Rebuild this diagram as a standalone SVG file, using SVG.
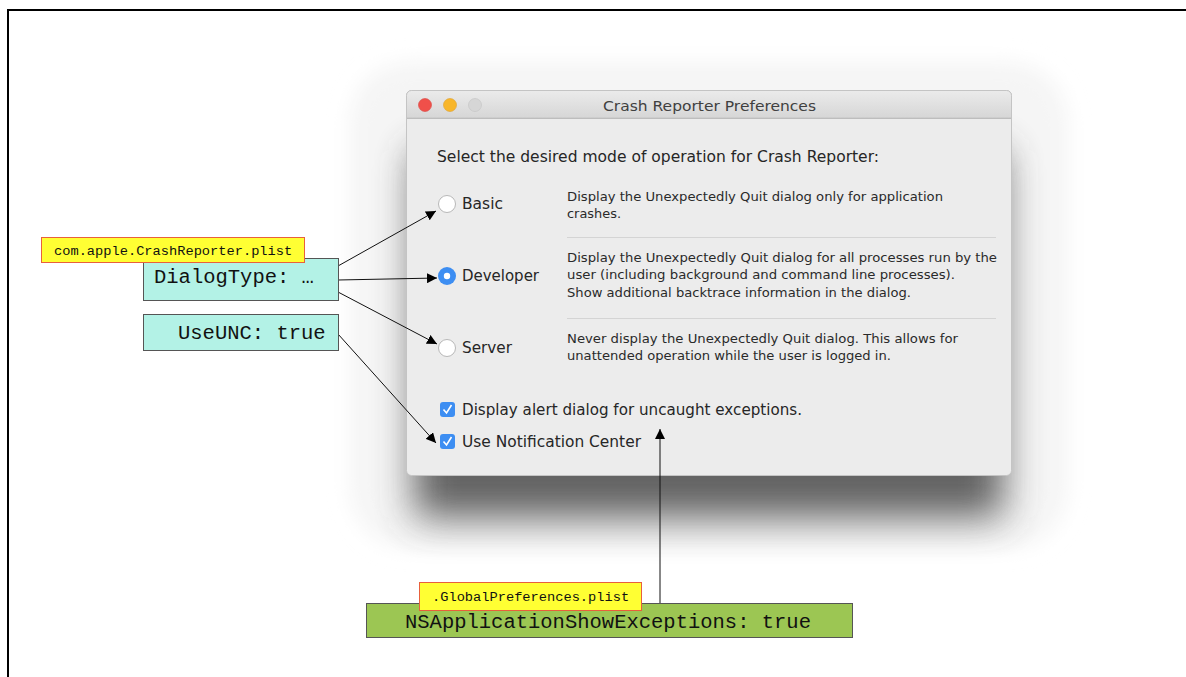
<svg xmlns="http://www.w3.org/2000/svg" width="1186" height="677" viewBox="0 0 1186 677">
  <style>
    .ui { font-family: "DejaVu Sans", "Liberation Sans", sans-serif; fill: #262626; }
    .title { font-size: 14.5px; fill: #404040; }
    .head { font-size: 15px; }
    .opt { font-size: 15px; }
    .desc { font-size: 13px; fill: #2a2a2a; }
    .mono { font-family: "Liberation Mono", "DejaVu Sans Mono", monospace; fill: #111; }
    .key { font-size: 20.5px; }
    .file { font-size: 13.7px; }
    .conn { stroke: #111; stroke-width: 1; fill: none; marker-end: url(#arrow); }
    .sep { stroke: #d4d4d4; stroke-width: 1; }
  </style>
  <defs>
    <marker id="arrow" viewBox="0 0 10 10" refX="10" refY="5" markerWidth="10" markerHeight="10" markerUnits="userSpaceOnUse" orient="auto">
      <path d="M0,0 L10,5 L0,10 z" fill="#000"/>
    </marker>
    <filter id="halo" x="-20%" y="-20%" width="140%" height="140%">
      <feGaussianBlur stdDeviation="10"/>
    </filter>
    <filter id="drop" x="-30%" y="-30%" width="160%" height="180%">
      <feGaussianBlur stdDeviation="19"/>
    </filter>
    <linearGradient id="titlebar" x1="0" y1="0" x2="0" y2="1">
      <stop offset="0" stop-color="#ebebeb"/>
      <stop offset="1" stop-color="#d6d6d6"/>
    </linearGradient>
  </defs>

  <!-- page frame -->
  <g id="frame">
    <line x1="7" y1="10" x2="1186" y2="10" stroke="#000" stroke-width="2"/>
    <line x1="8" y1="9" x2="8" y2="677" stroke="#000" stroke-width="2"/>
  </g>

  <!-- preferences window -->
  <g id="window">
    <rect x="350" y="62" width="718" height="486" rx="60" fill="#f5f5f5" filter="url(#halo)"/>
    <rect x="414" y="150" width="590" height="368" rx="10" fill="#4a4a4a" opacity="0.85" filter="url(#drop)"/>
    <rect x="406.5" y="90.5" width="605" height="385" rx="5" fill="#ececec" stroke="#c4c4c4"/>
    <path d="M406.5,118 V95.5 a5,5 0 0 1 5,-5 H1006.5 a5,5 0 0 1 5,5 V118 z" fill="url(#titlebar)" stroke="#c4c4c4"/>
    <line x1="407" y1="118.5" x2="1011" y2="118.5" stroke="#bdbdbd"/>
    <circle cx="425" cy="105" r="6.5" fill="#f0504a" stroke="#d94440" stroke-width="0.6"/>
    <circle cx="450" cy="105" r="6.5" fill="#f8b62a" stroke="#dea02a" stroke-width="0.6"/>
    <circle cx="475" cy="105" r="6.5" fill="#d6d6d6" stroke="#c2c2c2" stroke-width="0.6"/>
    <text class="ui title" x="603" y="110.5" textLength="213" lengthAdjust="spacingAndGlyphs">Crash Reporter Preferences</text>

    <text class="ui head" x="437" y="162" textLength="442" lengthAdjust="spacingAndGlyphs">Select the desired mode of operation for Crash Reporter:</text>

    <!-- Basic -->
    <circle cx="447" cy="204" r="8.5" fill="#fff" stroke="#b8b8b8"/>
    <text class="ui opt" x="462" y="209" textLength="41" lengthAdjust="spacingAndGlyphs">Basic</text>
    <text class="ui desc" x="567" y="201" textLength="376" lengthAdjust="spacingAndGlyphs">Display the Unexpectedly Quit dialog only for application</text>
    <text class="ui desc" x="567" y="218" textLength="54" lengthAdjust="spacingAndGlyphs">crashes.</text>
    <line class="sep" x1="567" y1="237.5" x2="996" y2="237.5"/>

    <!-- Developer -->
    <circle cx="447" cy="276" r="9" fill="#3d8ef2"/>
    <circle cx="447" cy="276" r="3.2" fill="#fff"/>
    <text class="ui opt" x="462" y="281" textLength="77" lengthAdjust="spacingAndGlyphs">Developer</text>
    <text class="ui desc" x="567" y="262" textLength="430" lengthAdjust="spacingAndGlyphs">Display the Unexpectedly Quit dialog for all processes run by the</text>
    <text class="ui desc" x="567" y="279" textLength="388" lengthAdjust="spacingAndGlyphs">user (including background and command line processes).</text>
    <text class="ui desc" x="567" y="297" textLength="344" lengthAdjust="spacingAndGlyphs">Show additional backtrace information in the dialog.</text>
    <line class="sep" x1="567" y1="318.5" x2="996" y2="318.5"/>

    <!-- Server -->
    <circle cx="447" cy="348" r="8.5" fill="#fff" stroke="#b8b8b8"/>
    <text class="ui opt" x="462" y="353" textLength="50" lengthAdjust="spacingAndGlyphs">Server</text>
    <text class="ui desc" x="567" y="343" textLength="391" lengthAdjust="spacingAndGlyphs">Never display the Unexpectedly Quit dialog. This allows for</text>
    <text class="ui desc" x="567" y="360" textLength="324" lengthAdjust="spacingAndGlyphs">unattended operation while the user is logged in.</text>

    <!-- checkboxes -->
    <rect x="440" y="402" width="15" height="15" rx="3" fill="#3d8ef2"/>
    <path d="M443.5,409.5 L446.5,413 L451.5,405" stroke="#fff" stroke-width="1.6" fill="none"/>
    <text class="ui opt" x="462" y="415" textLength="340" lengthAdjust="spacingAndGlyphs">Display alert dialog for uncaught exceptions.</text>
    <rect x="440" y="434" width="15" height="15" rx="3" fill="#3d8ef2"/>
    <path d="M443.5,441.5 L446.5,445 L451.5,437" stroke="#fff" stroke-width="1.6" fill="none"/>
    <text class="ui opt" x="462" y="447" textLength="179" lengthAdjust="spacingAndGlyphs">Use Notification Center</text>
  </g>

  <!-- connectors -->
  <g id="connectors">
    <line class="conn" x1="338" y1="266" x2="436" y2="211"/>
    <line class="conn" x1="338" y1="280" x2="437" y2="278"/>
    <line class="conn" x1="338" y1="292" x2="437" y2="344"/>
    <line class="conn" x1="338" y1="334" x2="436" y2="443"/>
    <line class="conn" x1="660" y1="603" x2="660" y2="429"/>
  </g>

  <!-- key: DialogType -->
  <g id="dialogtype">
    <rect x="143.5" y="258.5" width="195" height="42" fill="#b3f2e6" stroke="#555"/>
    <text class="mono key" x="154" y="283">DialogType: …</text>
  </g>
  <g id="crashreporter-plist">
    <rect x="41.5" y="237.5" width="263" height="25" fill="#ffff33" stroke="#e8603c"/>
    <text class="mono file" x="54" y="255">com.apple.CrashReporter.plist</text>
  </g>

  <!-- key: UseUNC -->
  <g id="useunc">
    <rect x="143.5" y="314.5" width="195" height="36" fill="#b3f2e6" stroke="#555"/>
    <text class="mono key" x="178" y="339">UseUNC: true</text>
  </g>

  <!-- key: NSApplicationShowExceptions -->
  <g id="showexceptions">
    <rect x="366.5" y="603.5" width="486" height="34" fill="#9cc653" stroke="#555"/>
    <text class="mono key" x="405" y="628">NSApplicationShowExceptions: true</text>
  </g>
  <g id="globalprefs-plist">
    <rect x="419.5" y="582.5" width="222" height="28" fill="#ffff33" stroke="#e8603c"/>
    <text class="mono file" x="432" y="601">.GlobalPreferences.plist</text>
  </g>
</svg>
